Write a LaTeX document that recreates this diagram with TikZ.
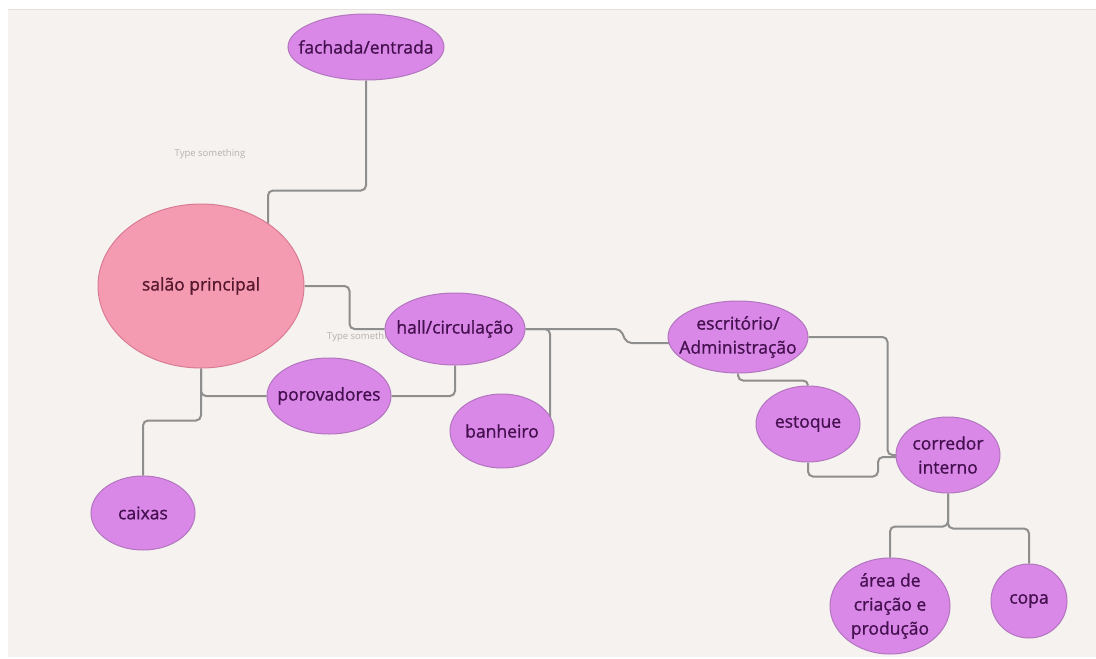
\documentclass[tikz,border=0pt]{standalone}
\usepackage{fontspec}
\setmainfont{Open Sans}
\newfontfamily\lblfont{Open Sans}[FakeBold=1.0]
\usetikzlibrary{shapes.geometric,calc}
\definecolor{bgbeige}{HTML}{F5F2EF}
\definecolor{bgedge}{HTML}{E4E1DE}
\definecolor{nodefill}{HTML}{DA88E8}
\definecolor{nodeline}{HTML}{B275BE}
\definecolor{nodetext}{HTML}{45104F}
\definecolor{pinkfill}{HTML}{F59BB1}
\definecolor{pinkline}{HTML}{D97C93}
\definecolor{pinktext}{HTML}{55182E}
\definecolor{connline}{HTML}{8E8E8E}
\definecolor{hintgrey}{HTML}{B4B1AE}
\pgfdeclarelayer{bglayer}
\pgfdeclarelayer{linelayer}
\pgfsetlayers{bglayer,linelayer,main}
\begin{document}
\begin{tikzpicture}[x=1pt,y=-1pt,
  room/.style args={#1/#2}{ellipse, draw=nodeline, fill=nodefill, line width=1pt,
    minimum width=#1pt, minimum height=#2pt, inner sep=0pt},
  pinkroom/.style args={#1/#2}{ellipse, draw=pinkline, fill=pinkfill, line width=1pt,
    minimum width=#1pt, minimum height=#2pt, inner sep=0pt},
  txt/.style={font=\lblfont\fontsize{17.5}{24}\selectfont, text=nodetext, align=center, inner sep=0pt},
  pinktxt/.style={font=\lblfont\fontsize{17.5}{24}\selectfont, text=pinktext, align=center, inner sep=0pt},
  hint/.style={font=\fontsize{9.5}{11}\selectfont, text=hintgrey, inner sep=0pt},
  conn/.style={draw=connline, line width=2pt, rounded corners=5pt}
]
\useasboundingbox (0,0) rectangle (1096,659);
\begin{pgfonlayer}{bglayer}
  \fill[white] (0,0) rectangle (1096,659);
  \fill[bgbeige] (8,9) rectangle (1096,657);
  \draw[bgedge, line width=1pt] (8,9.5) -- (1096,9.5);
\end{pgfonlayer}

% hint texts
\node[hint] (hint1) at (210,154) {Type something};
\node[hint, anchor=west] (hint2) at (327,337) {Type something};

% nodes
\node[room=156/66, label={[txt]center:fachada/entrada}] (fachada) at (366,47) {};
\node[pinkroom=206/164, label={[pinktxt]center:salão principal}] (salao) at (201,286) {};
\node[room=140/72, label={[txt]center:hall/circulação}] (hall) at (455,329) {};
\node[room=124/76, label={[txt]center:porovadores}] (porov) at (329,396) {};
\node[room=104/74, label={[txt]center:caixas}] (caixas) at (143,513) {};
\node[room=104/74, label={[txt]center:banheiro}] (banheiro) at (502,431) {};
\node[room=140/72, label={[txt]center:{escritório/\\Administração}}] (escr) at (738,337) {};
\node[room=104/76, label={[txt]center:estoque}] (estoque) at (808,424) {};
\node[room=104/76, label={[txt]center:{corredor\\interno}}] (corr) at (948,455) {};
\node[room=120/96, label={[txt]center:{área de\\criação e\\produção}}] (area) at (890,606) {};
\node[room=76/74, label={[txt]center:copa}] (copa) at (1029,601) {};

% connectors
\begin{pgfonlayer}{linelayer}
  \draw[conn] (fachada.south) -- ++(0,110) -| ($(salao.center)+(67,0)$);
  \draw[conn] (salao.east) -- ++(45,0) |- (hall.west);
  \draw[conn] (salao.south) |- (porov.west);
  \draw[conn] (salao.south) -- ++(0,52) -| (caixas.north);
  \draw[conn] (porov.east) -| (hall.south);
  \draw[conn] (hall.east) -| ($(banheiro.center)+(48,-5)$);
  \draw[conn] (hall.east) -- ++(95,0) -- ++(6,14) -- ($(escr.west)+(6,6)$);
  \draw[conn] (escr.south) -- ++(0,7) -| (estoque.north);
  \draw[conn] (escr.east) -- ++(79,0) |- ($(corr.west)+(4,0)$);
  \draw[conn] (estoque.south) -- ++(0,14) -- ++(70,0) |- ($(corr.west)+(4,2)$);
  \draw[conn] (corr.south) -- ++(0,33) -| (area.north);
  \draw[conn] (corr.south) -- ++(0,35) -| (copa.north);
\end{pgfonlayer}
\end{tikzpicture}
\end{document}
